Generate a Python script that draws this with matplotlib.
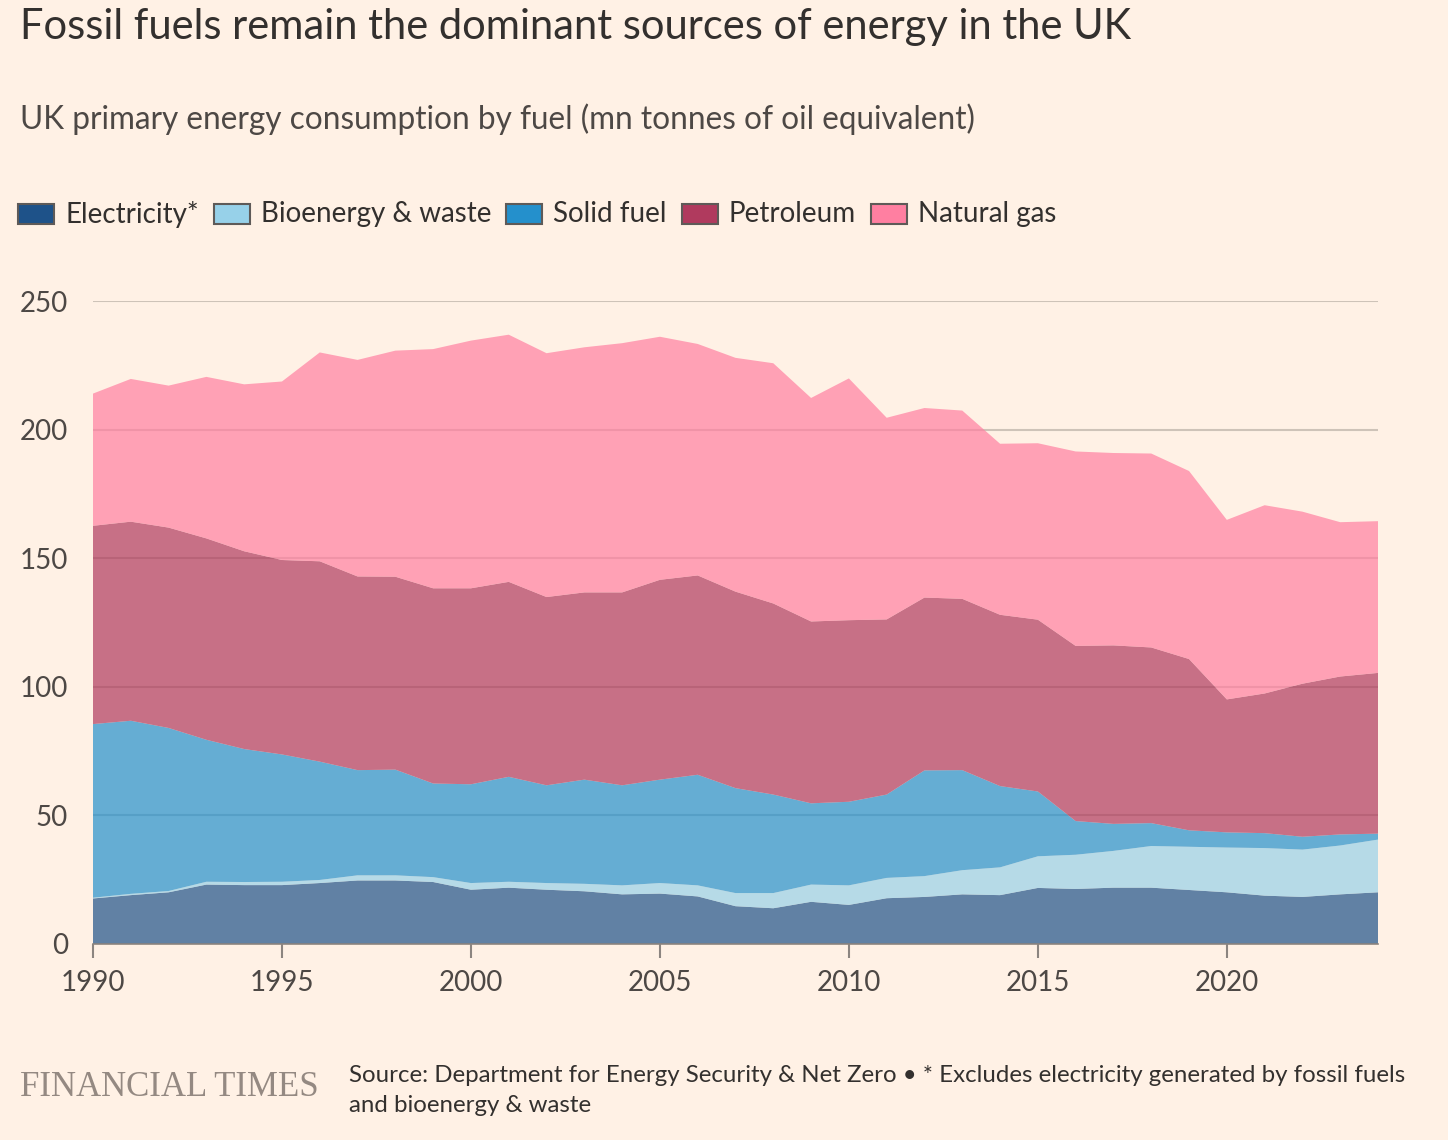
import matplotlib
matplotlib.use("Agg")
import matplotlib.pyplot as plt
from matplotlib.patches import Rectangle
import numpy as np

years = list(range(1990, 2025))
electricity = [17.7, 19.0, 20.1, 23.1, 22.9, 22.9, 23.7, 24.7, 24.7, 24.1,
               21.1, 21.9, 21.1, 20.5, 19.3, 19.6, 18.5, 14.7, 13.9, 16.4,
               15.2, 17.8, 18.3, 19.3, 19.0, 21.8, 21.4, 21.9, 21.9, 21.0,
               20.1, 18.8, 18.3, 19.3, 20.1]
bioenergy = [0.3, 0.5, 0.5, 1.1, 1.2, 1.3, 1.2, 2.0, 2.0, 1.9,
             2.6, 2.3, 2.6, 2.9, 3.5, 4.1, 4.3, 5.1, 5.9, 6.7,
             7.6, 7.9, 8.1, 9.4, 10.8, 12.3, 13.3, 14.3, 16.2, 16.8,
             17.4, 18.5, 18.4, 19.0, 20.5]
solid_fuel = [67.5, 67.3, 63.4, 55.2, 51.7, 49.5, 46.0, 40.9, 41.1, 36.4,
              38.4, 40.8, 38.0, 40.5, 38.9, 40.2, 43.0, 40.8, 38.3, 31.6,
              32.5, 32.4, 41.1, 38.9, 31.6, 25.2, 13.1, 10.5, 8.9, 6.4,
              5.9, 5.8, 5.0, 4.3, 2.3]
petroleum = [77.1, 77.4, 77.9, 78.3, 76.9, 75.6, 77.9, 75.3, 75.0, 75.9,
             76.2, 75.8, 73.2, 72.8, 75.0, 77.7, 77.5, 76.4, 74.3, 70.7,
             70.6, 68.1, 67.2, 66.6, 66.6, 66.8, 68.1, 69.4, 68.3, 66.6,
             51.7, 54.3, 59.5, 61.4, 62.5]
natural_gas = [51.4, 55.5, 55.2, 62.8, 64.9, 69.4, 81.2, 84.2, 87.9, 93.0,
               96.3, 96.1, 94.8, 95.3, 96.9, 94.5, 90.0, 90.9, 93.4, 86.9,
               94.0, 78.4, 73.7, 73.2, 66.5, 68.6, 75.6, 74.8, 75.4, 73.1,
               69.8, 73.2, 66.9, 60.0, 59.0]

series_names = ["Electricity*", "Bioenergy & waste", "Solid fuel", "Petroleum", "Natural gas"]
colors = ["#1E5289", "#97D1E9", "#2490CC", "#B03A5E", "#FF7FA1"]

y_ticks = [0, 50, 100, 150, 200, 250]
x_ticks = [1990, 1995, 2000, 2005, 2010, 2015, 2020]

BG = "#FFF1E5"
TXT = "#33302E"
W, H = 1448, 1140
plt.rcParams['font.family'] = ['Lato', 'DejaVu Sans']
fig = plt.figure(figsize=(W / 100, H / 100), dpi=100, facecolor=BG)

ax = fig.add_axes([93 / W, 1 - 944 / H, (1378 - 93) / W, (944 - 301) / H])
ax.set_facecolor(BG)
ax.stackplot(years, electricity, bioenergy, solid_fuel, petroleum, natural_gas,
             colors=colors, alpha=0.7, linewidth=0, zorder=2)

ax.set_xlim(1990, 2024)
ax.set_ylim(0, 250)
ax.set_yticks(y_ticks)
ax.set_xticks(x_ticks)
ax.yaxis.grid(True, color="#CEC3B8", linewidth=1.5, zorder=1)
ax.set_axisbelow(True)
for s in ["top", "right", "left"]:
    ax.spines[s].set_visible(False)
ax.spines["bottom"].set_color("#8C8580")
ax.spines["bottom"].set_linewidth(1.2)
ax.spines["bottom"].set_zorder(3)
ax.tick_params(axis="y", length=0, pad=18, labelsize=20, labelcolor="#4D4845")
ax.tick_params(axis="x", length=10, width=1.5, color="#8C8580", pad=9,
               labelsize=20, labelcolor="#4D4845")

fig.text(20 / W, 1 - 27 / H, "Fossil fuels remain the dominant sources of energy in the UK",
         fontsize=30, color=TXT, va="center", ha="left")
fig.text(20 / W, 1 - 119 / H, "UK primary energy consumption by fuel (mn tonnes of oil equivalent)",
         fontsize=22.7, color="#4D4845", va="center", ha="left")

# legend, laid out manually
renderer = fig.canvas.get_renderer()
x = 18
ly = 214
sw, sh = 36, 20
for name, c in zip(series_names, colors):
    fig.patches.append(Rectangle((x / W, 1 - (ly + sh / 2) / H), sw / W, sh / H,
                                 transform=fig.transFigure, facecolor=c,
                                 edgecolor="#5E5A58", linewidth=1.5))
    t = fig.text((x + sw + 11) / W, 1 - ly / H, name, fontsize=20.0, color=TXT,
                 va="center", ha="left")
    bb = t.get_window_extent(renderer)
    x = bb.x1 + 15

fig.text(20 / W, 1 - 1087 / H, "FINANCIAL TIMES", family=["Liberation Serif", "DejaVu Serif"],
         fontsize=25, color="#948982", va="center", ha="left")
fig.text(349 / W, 1 - 1075 / H,
         "Source: Department for Energy Security & Net Zero \u2022 * Excludes electricity generated by fossil fuels",
         fontsize=17.3, color=TXT, va="center", ha="left")
fig.text(349 / W, 1 - 1106 / H, "and bioenergy & waste",
         fontsize=17.3, color=TXT, va="center", ha="left")

fig.savefig("out.png", dpi=100, facecolor=BG)
